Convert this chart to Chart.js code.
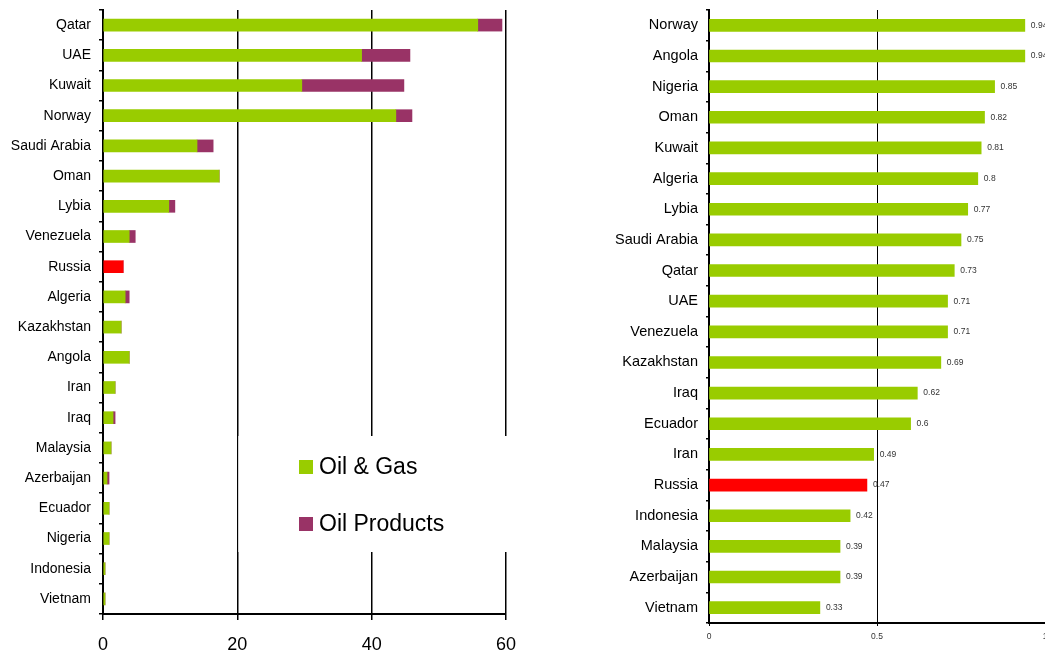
<!DOCTYPE html>
<html>
<head>
<meta charset="utf-8">
<script src="https://cdn.jsdelivr.net/npm/chart.js@4"></script>
<style>
  html, body { margin: 0; padding: 0; background: #fff; overflow: hidden; }
  #wrap { position: relative; width: 1045px; height: 653px; }
  #left { position: absolute; left: 0; top: 0; }
  #right { position: absolute; left: 600px; top: 0; }
</style>
</head>
<body>
<div id="wrap">
  <canvas id="left" width="530" height="653"></canvas>
  <canvas id="right" width="470" height="653"></canvas>
</div>
<script>
// left chart: stacked values per country
const countriesLeft = ["Qatar","UAE","Kuwait","Norway","Saudi Arabia","Oman","Lybia","Venezuela","Russia","Algeria",
                       "Kazakhstan","Angola","Iran","Iraq","Malaysia","Azerbaijan","Ecuador","Nigeria","Indonesia","Vietnam"];
const oilGas      = [55.8, 38.5, 29.6, 43.6, 14.0, 17.3, 9.8, 3.9, 3.0, 3.3, 2.7, 3.9, 1.8, 1.5, 1.2, 0.6, 0.9, 0.9, 0.3, 0.3];
const oilProducts = [3.6, 7.2, 15.2, 2.4, 2.4, 0, 0.9, 0.9, 0, 0.6, 0, 0, 0, 0.3, 0, 0.3, 0, 0, 0, 0];
const leftTicks   = [0, 20, 40, 60];

// right chart: index per country
const countriesRight = ["Norway","Angola","Nigeria","Oman","Kuwait","Algeria","Lybia","Saudi Arabia","Qatar","UAE",
                        "Venezuela","Kazakhstan","Iraq","Ecuador","Iran","Russia","Indonesia","Malaysia","Azerbaijan","Vietnam"];
const indexValues    = [0.94, 0.94, 0.85, 0.82, 0.81, 0.8, 0.77, 0.75, 0.73, 0.71, 0.71, 0.69, 0.62, 0.6, 0.49, 0.47, 0.42, 0.39, 0.39, 0.33];
const rightTicks     = [0, 0.5, 1];

const GREEN = "#99cc00", PURPLE = "#993366", RED = "#ff0000";
const highlight = "Russia";

Chart.defaults.font.family = "'Liberation Sans', Arial, sans-serif";
Chart.defaults.color = "#000";

// white legend box sitting inside the plot (covers the 40/60 gridlines)
const boxLegend = {
  id: "boxLegend",
  afterDraw(chart){
    const ctx = chart.ctx, xs = chart.scales.x;
    const x0 = xs.getPixelForValue(20) + 1;
    ctx.save();
    ctx.fillStyle = "#fff";
    ctx.fillRect(x0, 436, chart.width - x0, 116);
    ctx.font = "23px 'Liberation Sans', Arial, sans-serif";
    ctx.textBaseline = "alphabetic";
    chart.data.datasets.forEach((ds, i) => {
      const y = 474 + i * 57;
      ctx.fillStyle = ds.swatch;
      ctx.fillRect(299, y - 14, 14, 14);
      ctx.fillStyle = "#000";
      ctx.fillText(ds.label, 319, y);
    });
    ctx.restore();
  }
};

// value labels to the right of each bar
const valueLabels = {
  id: "valueLabels",
  afterDatasetsDraw(chart){
    const ctx = chart.ctx;
    const meta = chart.getDatasetMeta(0);
    ctx.save();
    ctx.font = "8.5px 'Liberation Sans', Arial, sans-serif";
    ctx.fillStyle = "#333";
    ctx.textBaseline = "middle";
    meta.data.forEach((bar, i) => {
      ctx.fillText(String(indexValues[i]), bar.x + 6, bar.y);
    });
    ctx.restore();
  }
};

// category axis: fixed width, no extra vertical padding
const fitY = w => s => { s.width = w; s.paddingTop = 0; s.paddingBottom = 0; };

new Chart(document.getElementById("left"), {
  type: "bar",
  data: {
    labels: countriesLeft,
    datasets: [
      { label: "Oil & Gas", data: oilGas, swatch: GREEN,
        backgroundColor: countriesLeft.map(c => c === highlight ? RED : GREEN) },
      { label: "Oil Products", data: oilProducts, swatch: PURPLE, backgroundColor: PURPLE }
    ]
  },
  options: {
    indexAxis: "y",
    responsive: false,
    animation: false,
    devicePixelRatio: 1,
    layout: { padding: { top: 10, right: 24, bottom: 0, left: 0 } },
    datasets: { bar: { barThickness: 12, borderWidth: 0 } },
    plugins: { legend: { display: false }, tooltip: { enabled: false } },
    scales: {
      x: {
        stacked: true, min: 0, max: 60,
        afterBuildTicks: s => { s.ticks = leftTicks.map(v => ({ value: v })); },
        afterFit: s => { s.height = 39; },
        grid: { color: "#000", lineWidth: 1.5, tickLength: 6, drawTicks: true },
        border: { color: "#000", width: 2 },
        ticks: { font: { size: 18 }, padding: 14, maxRotation: 0, callback: v => String(v) }
      },
      y: {
        stacked: true,
        afterFit: fitY(103),
        grid: { offset: true, drawOnChartArea: false, color: "#000", lineWidth: 1.5, tickLength: 4 },
        border: { color: "#000", width: 2 },
        ticks: { font: { size: 14 }, padding: 8, autoSkip: false }
      }
    }
  },
  plugins: [boxLegend]
});

new Chart(document.getElementById("right"), {
  type: "bar",
  data: {
    labels: countriesRight,
    datasets: [
      { label: "Index", data: indexValues,
        backgroundColor: countriesRight.map(c => c === highlight ? RED : GREEN) }
    ]
  },
  options: {
    indexAxis: "y",
    responsive: false,
    animation: false,
    devicePixelRatio: 1,
    layout: { padding: { top: 10, right: 25, bottom: 0, left: 0 } },
    datasets: { bar: { barThickness: 12, borderWidth: 0 } },
    plugins: { legend: { display: false }, tooltip: { enabled: false } },
    scales: {
      x: {
        min: 0, max: 1,
        afterBuildTicks: s => { s.ticks = rightTicks.map(v => ({ value: v })); },
        afterFit: s => { s.height = 30; },
        grid: { color: "#000", lineWidth: 1, tickLength: 3, drawTicks: true },
        border: { color: "#000", width: 2 },
        ticks: { font: { size: 8.5 }, padding: 6, maxRotation: 0, color: "#333", callback: v => String(v) }
      },
      y: {
        afterFit: fitY(109),
        grid: { offset: true, drawOnChartArea: false, color: "#000", lineWidth: 1.5, tickLength: 3 },
        border: { color: "#000", width: 2 },
        ticks: { font: { size: 14.5 }, padding: 8, autoSkip: false }
      }
    }
  },
  plugins: [valueLabels]
});
</script>
</body>
</html>
